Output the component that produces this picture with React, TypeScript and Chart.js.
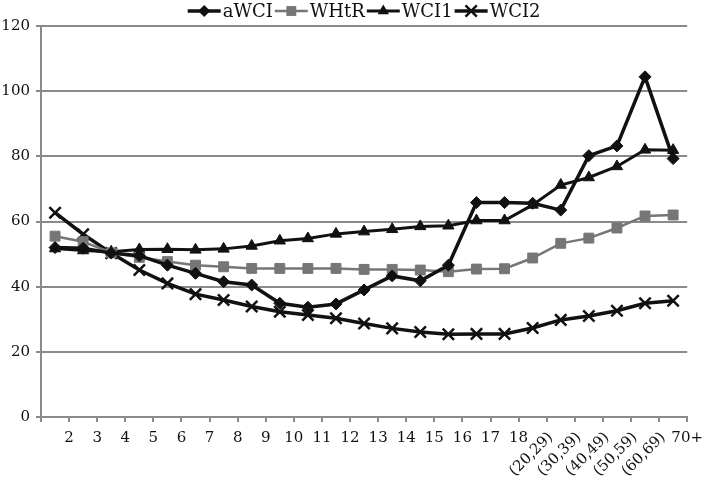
import React, { useEffect, useRef } from 'react';
import { Chart, registerables } from 'chart.js';

Chart.register(...registerables);

const CATEGORIES = ['2', '3', '4', '5', '6', '7', '8', '9', '10', '11', '12', '13', '14', '15', '16', '17', '18',
  '(20,29)', '(30,39)', '(40,49)', '(50,59)', '(60,69)', '70+'];

const AWCI = [52.0, 51.8, 50.3, 49.5, 46.6, 44.1, 41.5, 40.5, 34.9, 33.7, 34.7, 39.0, 43.3, 41.8, 46.6, 65.8, 65.8, 65.6, 63.5, 80.2, 83.2, 104.4, 79.3];
const WHTR = [55.5, 53.8, 50.4, 49.0, 47.7, 46.6, 46.1, 45.6, 45.6, 45.6, 45.6, 45.3, 45.3, 45.1, 44.6, 45.4, 45.5, 48.8, 53.3, 54.9, 58.0, 61.7, 62.0];
const WCI1 = [51.7, 51.1, 50.7, 51.4, 51.5, 51.3, 51.6, 52.5, 54.1, 54.8, 56.2, 56.9, 57.6, 58.5, 58.7, 60.3, 60.3, 65.1, 71.2, 73.5, 76.9, 82.0, 81.9];
const WCI2 = [62.7, 56.1, 50.3, 45.1, 41.0, 37.7, 35.9, 33.9, 32.3, 31.3, 30.3, 28.7, 27.2, 26.1, 25.4, 25.5, 25.5, 27.3, 29.8, 31.0, 32.6, 34.9, 35.7];

const SERIES_NAMES = ['aWCI', 'WHtR', 'WCI1', 'WCI2'];
const Y_MIN = 0;
const Y_MAX = 120;
const Y_STEP = 20;

const FONT = '"DejaVu Serif", "Liberation Serif", serif';
const GRID = '#8a8a8a';
const INK = '#111111';
const GREY = '#767676';

const toXY = (vals: number[]) => vals.map((v, i) => ({ x: i + 0.5, y: v }));

function drawMarker(ctx: CanvasRenderingContext2D, style: string, x: number, y: number, r: number, color: string, bw: number) {
  ctx.save();
  ctx.fillStyle = color;
  ctx.strokeStyle = color;
  ctx.lineWidth = bw;
  ctx.beginPath();
  if (style === 'rectRot') {
    ctx.moveTo(x, y - r); ctx.lineTo(x + r, y); ctx.lineTo(x, y + r); ctx.lineTo(x - r, y); ctx.closePath();
    ctx.fill();
  } else if (style === 'rect') {
    const s = r * Math.SQRT1_2;
    ctx.rect(x - s, y - s, 2 * s, 2 * s);
    ctx.fill();
  } else if (style === 'triangle') {
    const h = r * 1.5;
    ctx.moveTo(x, y - r); ctx.lineTo(x + r * 0.87, y + r * 0.5); ctx.lineTo(x - r * 0.87, y + r * 0.5); ctx.closePath();
    ctx.fill();
    void h;
  } else {
    const s = r * Math.SQRT1_2;
    ctx.moveTo(x - s, y - s); ctx.lineTo(x + s, y + s);
    ctx.moveTo(x + s, y - s); ctx.lineTo(x - s, y + s);
    ctx.stroke();
  }
  ctx.restore();
}

const overlayPlugin = {
  id: 'overlay',
  afterDraw(chart: any) {
    const ctx: CanvasRenderingContext2D = chart.ctx;
    const xs = chart.scales.x;
    // rotated category labels
    ctx.save();
    ctx.font = `15px ${FONT}`;
    ctx.fillStyle = INK;
    ctx.textAlign = 'right';
    ctx.textBaseline = 'middle';
    CATEGORIES.forEach((lab, i) => {
      if (!lab.startsWith('(')) return;
      const px = xs.getPixelForValue(i + 1);
      ctx.save();
      ctx.translate(px + 4, 435);
      ctx.rotate(-Math.PI / 4);
      ctx.fillText(lab, 0, 0);
      ctx.restore();
    });
    ctx.restore();

    // legend
    ctx.save();
    ctx.font = `18px ${FONT}`;
    ctx.textBaseline = 'middle';
    ctx.textAlign = 'left';
    const lineLen = 33;
    const gapAfterLine = 2;
    const gapAfterText = 2;
    const items = chart.data.datasets.map((ds: any) => ({ ds, w: ctx.measureText(ds.label).width }));
    const total = items.reduce((a: number, it: any) => a + lineLen + gapAfterLine + it.w + gapAfterText, 0) - gapAfterText;
    const ca = chart.chartArea;
    let x = (ca.left + ca.right) / 2 - total / 2;
    const y = 11;
    items.forEach((it: any) => {
      const ds = it.ds;
      ctx.save();
      ctx.strokeStyle = ds.borderColor;
      ctx.lineWidth = ds.borderWidth;
      ctx.beginPath();
      ctx.moveTo(x, y);
      ctx.lineTo(x + lineLen, y);
      ctx.stroke();
      ctx.restore();
      drawMarker(ctx, ds.pointStyle, x + lineLen / 2, y, ds.pointRadius, ds.borderColor, ds.pointBorderWidth || 1);
      x += lineLen + gapAfterLine;
      ctx.fillStyle = INK;
      ctx.fillText(ds.label, x, y + 1);
      x += it.w + gapAfterText;
    });
    ctx.restore();
  },
};

export default function App() {
  const ref = useRef<HTMLCanvasElement | null>(null);

  useEffect(() => {
    if (!ref.current) return;
    const seriesVals = [AWCI, WHTR, WCI1, WCI2];
    const styles = [
      { color: INK, width: 3.5, point: 'rectRot', radius: 6, pbw: 1 },
      { color: GREY, width: 2.5, point: 'rect', radius: 7, pbw: 1 },
      { color: INK, width: 3, point: 'triangle', radius: 6.5, pbw: 1 },
      { color: INK, width: 3.5, point: 'crossRot', radius: 8, pbw: 2.5 },
    ];
    const chart = new Chart(ref.current, {
      type: 'line',
      data: {
        datasets: SERIES_NAMES.map((name, k) => ({
          label: name,
          data: toXY(seriesVals[k]),
          borderColor: styles[k].color,
          backgroundColor: styles[k].color,
          pointBackgroundColor: styles[k].color,
          pointBorderColor: styles[k].color,
          borderWidth: styles[k].width,
          pointStyle: styles[k].point as any,
          pointRadius: styles[k].radius,
          pointBorderWidth: styles[k].pbw,
          tension: 0,
          fill: false,
        })),
      },
      options: {
        responsive: false,
        animation: false,
        devicePixelRatio: 1,
        layout: { padding: { top: 26, right: 19, left: 0, bottom: 0 } },
        plugins: {
          legend: { display: false },
          tooltip: { enabled: false },
        },
        scales: {
          x: {
            type: 'linear',
            min: 0,
            max: CATEGORIES.length,
            afterFit: (s: any) => { s.height = 61; },
            grid: { drawOnChartArea: false, drawTicks: true, tickLength: 5, color: GRID, lineWidth: 2 },
            border: { color: GRID, width: 2 },
            ticks: {
              stepSize: 1,
              autoSkip: false,
              maxTicksLimit: 100,
              maxRotation: 0,
              minRotation: 0,
              padding: 7,
              color: INK,
              font: { family: FONT, size: 15 },
              callback: (v: any) => {
                const lab = CATEGORIES[Number(v) - 1];
                return lab && !lab.startsWith('(') ? lab : '';
              },
            },
          },
          y: {
            min: Y_MIN,
            max: Y_MAX,
            afterFit: (s: any) => { s.width = 41; },
            grid: { color: GRID, lineWidth: 2, tickLength: 5, drawTicks: true },
            border: { color: GRID, width: 2 },
            ticks: {
              stepSize: Y_STEP,
              padding: 6,
              color: INK,
              font: { family: FONT, size: 15 },
            },
          },
        },
      },
      plugins: [overlayPlugin],
    } as any);
    return () => chart.destroy();
  }, []);

  return (
    <div style={{ position: 'fixed', left: 0, top: 0, width: 710, height: 478, background: '#ffffff' }}>
      <canvas ref={ref} width={710} height={478} style={{ display: 'block' }} />
    </div>
  );
}
